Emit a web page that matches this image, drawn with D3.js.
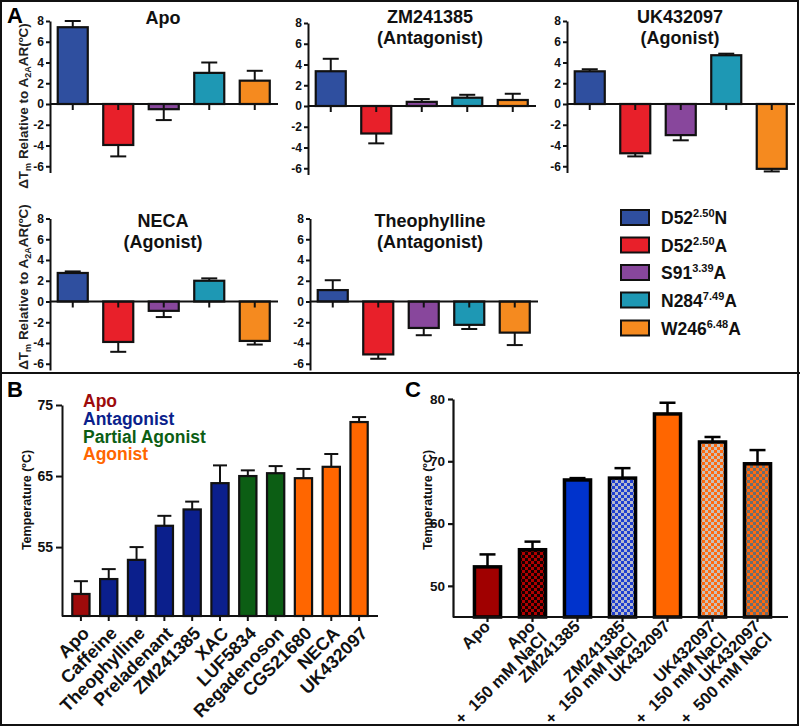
<!DOCTYPE html>
<html>
<head>
<meta charset="utf-8">
<script src="https://cdn.jsdelivr.net/npm/d3@7"></script>
<style>
  body { margin: 0; background: #fff; }
  text { font-family: "Liberation Sans", Arial, sans-serif; font-weight: bold; }
</style>
</head>
<body>
<script>
// ---- data ----
const mutBase = ["D52", "D52", "S91", "N284", "W246"];
const mutSup = ["2.50", "2.50", "3.39", "7.49", "6.48"];
const mutEnd = ["N", "A", "A", "A", "A"];
const mutColors = ["#2f4f9f", "#e8202a", "#88479c", "#1e98b4", "#f58a1f"];

const ligandNames = ["Apo", "ZM241385", "UK432097", "NECA", "Theophylline"];
const ligandRoles = ["", "(Antagonist)", "(Agonist)", "(Agonist)", "(Antagonist)"];
const dtmApo = [7.4, -3.95, -0.5, 3.0, 2.25];
const errApo = [0.6, 1.1, 1.05, 1.0, 0.95];
const dtmZM = [3.35, -2.65, 0.4, 0.8, 0.58];
const errZM = [1.2, 0.95, 0.27, 0.28, 0.6];
const dtmUK = [3.15, -4.75, -3.0, 4.7, -6.25];
const errUK = [0.2, 0.3, 0.5, 0.15, 0.25];
const dtmNECA = [2.75, -3.9, -0.9, 2.0, -3.8];
const errNECA = [0.15, 0.95, 0.6, 0.23, 0.35];
const dtmTheo = [1.1, -5.1, -2.55, -2.25, -3.0];
const errTheo = [0.95, 0.42, 0.7, 0.4, 1.2];

const bLigands = ["Apo", "Caffeine", "Theophylline", "Preladenant", "ZM241385", "XAC",
  "LUF5834", "Regadenoson", "CGS21680", "NECA", "UK432097"];
const bClass = ["Apo", "Antagonist", "Antagonist", "Antagonist", "Antagonist", "Antagonist",
  "Partial Agonist", "Partial Agonist", "Agonist", "Agonist", "Agonist"];
const bTm = [48.4, 50.5, 53.2, 58.0, 60.3, 64.0, 65.0, 65.4, 64.7, 66.3, 72.6];
const bErr = [1.8, 1.4, 1.8, 1.4, 1.1, 2.5, 0.8, 1.0, 1.3, 1.8, 0.7];
const classNames = ["Apo", "Antagonist", "Partial Agonist", "Agonist"];
const classColors = ["#9e0b0b", "#0b1f8c", "#0c5e14", "#ff6600"];

const cLine1 = ["Apo", "Apo", "ZM241385", "ZM241385", "UK432097", "UK432097", "UK432097"];
const cLine2 = ["", "+  150 mM NaCl", "", "+  150 mM NaCl", "", "+  150 mM NaCl", "+  500 mM NaCl"];
const cTm = [53.05, 55.8, 67.0, 67.3, 77.6, 73.1, 69.6];
const cErr = [2.0, 1.3, 0.3, 1.6, 1.8, 0.8, 2.2];

const svg = d3.select("body").append("svg")
  .attr("width", 800)
  .attr("height", 727);

const plain = d => String(d); // hyphen minus like the original

// checker patterns for panel C
const defs = svg.append("defs");
function checker(id, c1, c2) {
  const p = defs.append("pattern").attr("id", id)
    .attr("width", 6).attr("height", 6).attr("patternUnits", "userSpaceOnUse");
  p.append("rect").attr("width", 6).attr("height", 6).attr("fill", c2);
  p.append("rect").attr("width", 3).attr("height", 3).attr("fill", c1);
  p.append("rect").attr("x", 3).attr("y", 3).attr("width", 3).attr("height", 3).attr("fill", c1);
}
checker("chkRed", "#b00000", "#150000");
checker("chkBlue", "#1f3fd0", "#b4b8cc");
checker("chkOrLight", "#ff6a10", "#c9c0b8");
checker("chkOrDark", "#ff6a10", "#6c6c6c");
const cFills = ["#a00000", "url(#chkRed)", "#0033cc", "url(#chkBlue)", "#ff6600", "url(#chkOrLight)", "url(#chkOrDark)"];

// frame
svg.append("rect").attr("x", 1).attr("y", 1).attr("width", 797).attr("height", 724)
  .attr("fill", "none").attr("stroke", "#111").attr("stroke-width", 2);
svg.append("line").attr("x1", 0).attr("x2", 800).attr("y1", 373).attr("y2", 373)
  .attr("stroke", "#111").attr("stroke-width", 2);

// panel letters
svg.append("text").attr("x", 7).attr("y", 23).attr("font-size", 22).text("A");
svg.append("text").attr("x", 7).attr("y", 397).attr("font-size", 22).text("B");
svg.append("text").attr("x", 405).attr("y", 397).attr("font-size", 22).text("C");

// ---- panel A ----
const miniLayout = [
  { ax: 50, top: 21, tx: 163, ty: 24 },
  { ax: 308, top: 23, tx: 430, ty: 23 },
  { ax: 567, top: 21, tx: 680, ty: 23 },
  { ax: 50, top: 218.5, tx: 163, ty: 227 },
  { ax: 310, top: 218.5, tx: 430, ty: 227 }
];
const miniVals = [dtmApo, dtmZM, dtmUK, dtmNECA, dtmTheo];
const miniErrs = [errApo, errZM, errUK, errNECA, errTheo];

function drawMini(i) {
  const L = miniLayout[i];
  const vals = miniVals[i], errs = miniErrs[i];
  const g = svg.append("g");
  const y = d3.scaleLinear().domain([-6.6, 8]).range([L.top + 14.6 * 10.375, L.top]);
  const x = d3.scaleBand().domain(d3.range(5)).range([L.ax, L.ax + 227.5]).paddingInner(0.34).paddingOuter(0.17);

  // bars
  g.selectAll("rect.bar").data(vals).join("rect")
    .attr("class", "bar")
    .attr("x", (d, j) => x(j))
    .attr("width", x.bandwidth())
    .attr("y", d => y(Math.max(0, d)))
    .attr("height", d => Math.abs(y(d) - y(0)))
    .attr("fill", (d, j) => mutColors[j])
    .attr("stroke", "#111").attr("stroke-width", 2.2);

  // error bars (one-sided)
  vals.forEach((d, j) => {
    const cx = x(j) + x.bandwidth() / 2;
    const e = d >= 0 ? d + errs[j] : d - errs[j];
    g.append("line").attr("x1", cx).attr("x2", cx).attr("y1", y(d)).attr("y2", y(e))
      .attr("stroke", "#111").attr("stroke-width", 2);
    g.append("line").attr("x1", cx - 8).attr("x2", cx + 8).attr("y1", y(e)).attr("y2", y(e))
      .attr("stroke", "#111").attr("stroke-width", 2);
  });

  // axes
  const ya = g.append("g").attr("transform", `translate(${L.ax},0)`)
    .call(d3.axisLeft(y).tickValues([-6, -4, -2, 0, 2, 4, 6, 8]).tickFormat(plain)
      .tickSize(4).tickSizeOuter(0).tickPadding(2));
  ya.selectAll("text").attr("font-size", 12).attr("fill", "#111")
    .attr("font-family", "'Liberation Sans', Arial, sans-serif").attr("font-weight", "bold");
  ya.selectAll("line, path").attr("stroke", "#111").attr("stroke-width", 2);

  const xa = g.append("g").attr("transform", `translate(0,${y(0)})`)
    .call(d3.axisBottom(x).tickSize(6).tickSizeOuter(0).tickFormat(""));
  xa.select(".domain").attr("d", `M${L.ax},0H${L.ax + 228}`);
  xa.selectAll("line, path").attr("stroke", "#111").attr("stroke-width", 2);

  // title
  const t = g.append("text").attr("text-anchor", "middle").attr("font-size", 18).attr("fill", "#111");
  t.append("tspan").attr("x", L.tx).attr("y", L.ty).text(ligandNames[i]);
  if (ligandRoles[i]) t.append("tspan").attr("x", L.tx).attr("y", L.ty + 21).text(ligandRoles[i]);
}
d3.range(5).forEach(drawMini);

function yLabelA(cy) {
  const t = svg.append("text").attr("transform", `translate(28,${cy}) rotate(-90)`)
    .attr("text-anchor", "middle").attr("font-size", 13.5).attr("fill", "#222");
  t.append("tspan").text("ΔT");
  t.append("tspan").attr("font-size", 9).attr("dy", 3).text("m");
  t.append("tspan").attr("dy", -3).text(" Relative to A");
  t.append("tspan").attr("font-size", 9).attr("dy", 3).text("2A");
  t.append("tspan").attr("dy", -3).text("AR(ºC)");
}
yLabelA(106);
yLabelA(287);

// legend
const legY = [217.5, 245, 272.5, 300, 328];
mutBase.forEach((b, j) => {
  svg.append("rect").attr("x", 621).attr("y", legY[j] - 7.5).attr("width", 28).attr("height", 15)
    .attr("fill", mutColors[j]).attr("stroke", "#111").attr("stroke-width", 2);
  const t = svg.append("text").attr("x", 661).attr("y", legY[j] + 6.5).attr("font-size", 17.5).attr("fill", "#111");
  t.append("tspan").text(b);
  t.append("tspan").attr("font-size", 11).attr("dy", -7).text(mutSup[j]);
  t.append("tspan").attr("dy", 7).text(mutEnd[j]);
});

// ---- panel B ----
{
  const ax = 62, baseY = 616;
  const y = d3.scaleLinear().domain([45.3, 75]).range([baseY, 405]);
  const x = d3.scaleBand().domain(bLigands).range([67, 373]).paddingInner(0.38).paddingOuter(0.19);
  const color = d3.scaleOrdinal().domain(classNames).range(classColors);
  const g = svg.append("g");

  g.selectAll("rect").data(bTm).join("rect")
    .attr("x", (d, j) => x(bLigands[j]))
    .attr("width", x.bandwidth())
    .attr("y", d => y(d))
    .attr("height", d => baseY - y(d))
    .attr("fill", (d, j) => color(bClass[j]))
    .attr("stroke", "#111").attr("stroke-width", 2.2);

  bTm.forEach((d, j) => {
    const cx = x(bLigands[j]) + x.bandwidth() / 2;
    const e = d + bErr[j];
    g.append("line").attr("x1", cx).attr("x2", cx).attr("y1", y(d)).attr("y2", y(e))
      .attr("stroke", "#111").attr("stroke-width", 2);
    g.append("line").attr("x1", cx - 7).attr("x2", cx + 7).attr("y1", y(e)).attr("y2", y(e))
      .attr("stroke", "#111").attr("stroke-width", 2);
  });

  const ya = g.append("g").attr("transform", `translate(${ax},0)`)
    .call(d3.axisLeft(y).tickValues([55, 65, 75]).tickSize(6).tickSizeOuter(0).tickPadding(3));
  ya.selectAll("text").attr("font-size", 14).attr("fill", "#111")
    .attr("font-family", "'Liberation Sans', Arial, sans-serif").attr("font-weight", "bold");
  ya.selectAll("line, path").attr("stroke", "#111").attr("stroke-width", 2);

  const xa = g.append("g").attr("transform", `translate(0,${baseY})`)
    .call(d3.axisBottom(x).tickSize(5).tickSizeOuter(0).tickPadding(0));
  xa.select(".domain").attr("d", `M${ax},0H378`);
  xa.selectAll("line, path").attr("stroke", "#111").attr("stroke-width", 2);
  xa.selectAll("text")
    .attr("font-size", 18).attr("fill", "#111")
    .attr("font-family", "'Liberation Sans', Arial, sans-serif").attr("font-weight", "bold")
    .attr("text-anchor", "end")
    .attr("x", 0).attr("y", 0).attr("dy", "0.35em")
    .attr("transform", "translate(5,14) rotate(-45)");

  svg.append("text").attr("transform", "translate(31,500) rotate(-90)")
    .attr("text-anchor", "middle").attr("font-size", 12.5).attr("fill", "#111")
    .text("Temperature (ºC)");

  classNames.forEach((c, j) => {
    svg.append("text").attr("x", 83).attr("y", 407 + j * 17.8).attr("font-size", 17.5)
      .attr("fill", classColors[j]).text(c);
  });
}

// ---- panel C ----
{
  const ax = 453, baseY = 617;
  const y = d3.scaleLinear().domain([45, 80]).range([baseY, 399]);
  const x = d3.scaleBand().domain(d3.range(7)).range([465, 780]).paddingInner(0.42).paddingOuter(0.21);
  const g = svg.append("g");

  g.selectAll("rect").data(cTm).join("rect")
    .attr("x", (d, j) => x(j))
    .attr("width", x.bandwidth())
    .attr("y", d => y(d))
    .attr("height", d => baseY - y(d))
    .attr("fill", (d, j) => cFills[j])
    .attr("stroke", "#000").attr("stroke-width", 3.5);

  cTm.forEach((d, j) => {
    const cx = x(j) + x.bandwidth() / 2;
    const e = d + cErr[j];
    g.append("line").attr("x1", cx).attr("x2", cx).attr("y1", y(d)).attr("y2", y(e))
      .attr("stroke", "#000").attr("stroke-width", 2.5);
    g.append("line").attr("x1", cx - 8).attr("x2", cx + 8).attr("y1", y(e)).attr("y2", y(e))
      .attr("stroke", "#000").attr("stroke-width", 2.5);
  });

  const ya = g.append("g").attr("transform", `translate(${ax},0)`)
    .call(d3.axisLeft(y).tickValues([50, 60, 70, 80]).tickSize(5).tickSizeOuter(0).tickPadding(3));
  ya.selectAll("text").attr("font-size", 13.5).attr("fill", "#111")
    .attr("font-family", "'Liberation Sans', Arial, sans-serif").attr("font-weight", "bold");
  ya.selectAll("line, path").attr("stroke", "#111").attr("stroke-width", 2.2);

  const xa = g.append("g").attr("transform", `translate(0,${baseY})`)
    .call(d3.axisBottom(x).tickSize(5).tickSizeOuter(0).tickFormat(""));
  xa.select(".domain").attr("d", `M${ax},0H788`);
  xa.selectAll("line, path").attr("stroke", "#111").attr("stroke-width", 2.2);

  cLine1.forEach((l1, j) => {
    const cx = x(j) + x.bandwidth() / 2;
    const t = g.append("text")
      .attr("transform", `translate(${cx},${baseY}) rotate(-45)`)
      .attr("text-anchor", "end").attr("font-size", 16.5).attr("fill", "#111")
      .style("white-space", "pre");
    t.append("tspan").attr("x", -5).attr("y", 10).text(l1);
    if (cLine2[j]) t.append("tspan").attr("x", -5).attr("y", 26.5).text(cLine2[j]);
  });

  svg.append("text").attr("transform", "translate(432,500) rotate(-90)")
    .attr("text-anchor", "middle").attr("font-size", 12.5).attr("fill", "#111")
    .text("Temperature (ºC)");
}
</script>
</body>
</html>
